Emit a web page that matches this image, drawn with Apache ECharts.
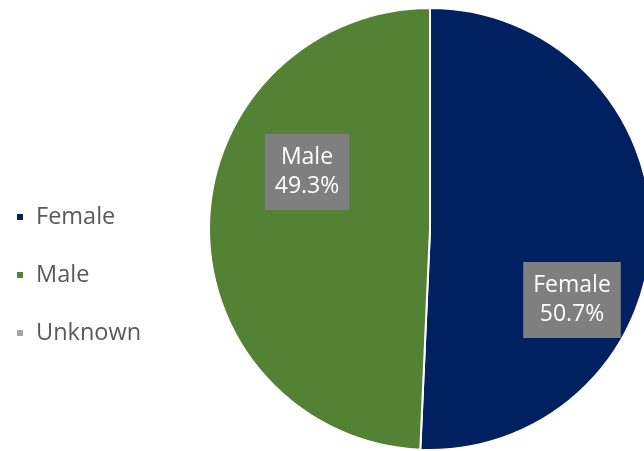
<!DOCTYPE html>
<html>
<head>
<meta charset="utf-8">
<script src="https://cdn.jsdelivr.net/npm/echarts@6/dist/echarts.min.js"></script>
<style>html,body{margin:0;padding:0;background:#fff;}#c{width:644px;height:451px;}</style>
</head>
<body>
<div id="c"></div>
<script>
var categories = ['Female', 'Male', 'Unknown'];
var values = [50.7, 49.3, 0];
var colors = ['#002060', '#548235', '#A5A5A5'];

var chart = echarts.init(document.getElementById('c'), null, {renderer: 'canvas'});
var labelSpots = [[572, 300], [307, 172]];
chart.setOption({
  animation: false,
  legend: {
    orient: 'vertical',
    left: 10,
    top: 199,
    icon: 'rect',
    itemWidth: 8,
    itemHeight: 8,
    itemGap: 32,
    textStyle: {fontFamily: 'Open Sans', fontSize: 23.5, color: '#595959', lineHeight: 26, padding: [0, 0, 0, 7]},
    data: categories
  },
  series: [{
    type: 'pie',
    center: [430, 229],
    radius: [0, 221],
    startAngle: 90,
    clockwise: true,
    percentPrecision: 1,
    avoidLabelOverlap: false,
    itemStyle: {borderColor: '#fff', borderWidth: 2},
    label: {
      show: true,
      position: 'inside',
      formatter: '{b}\n{d}%',
      color: '#fff',
      fontFamily: 'Open Sans',
      fontSize: 23,
      lineHeight: 29,
      backgroundColor: '#7F7F7F',
      padding: [9, 10, 9, 10],
      align: 'center',
      verticalAlign: 'middle'
    },
    labelLine: {show: false},
    labelLayout: function (p) {
      var s = labelSpots[p.dataIndex];
      return s ? {x: s[0], y: s[1]} : {};
    },
    emphasis: {disabled: true},
    data: categories.map(function (c, i) {
      return {name: c, value: values[i], itemStyle: {color: colors[i]}, label: {show: values[i] > 0}};
    })
  }]
});
</script>
</body>
</html>
